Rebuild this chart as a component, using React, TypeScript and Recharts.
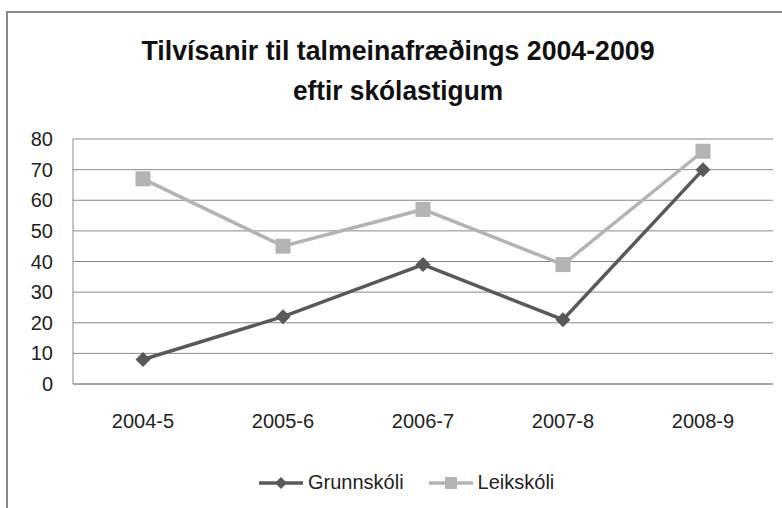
import React from "react";
import { LineChart, Line, XAxis, YAxis, CartesianGrid } from "recharts";

const categories = ["2004-5", "2005-6", "2006-7", "2007-8", "2008-9"];
const grunnskoli = [8, 22, 39, 21, 70];
const leikskoli = [67, 45, 57, 39, 76];
const yTicks = [0, 10, 20, 30, 40, 50, 60, 70, 80];
const seriesNames = ["Grunnskóli", "Leikskóli"];
const titleLines = ["Tilvísanir til talmeinafræðings 2004-2009", "eftir skólastigum"];

const data = categories.map((c, i) => ({
  cat: c,
  g: grunnskoli[i],
  l: leikskoli[i],
}));

const DARK = "#595959";
const LIGHT = "#b3b3b3";
const FONT = "'Liberation Sans', Arial, sans-serif";

const Diamond = (props: any) => {
  const { cx, cy } = props;
  if (cx == null || cy == null) return null;
  const r = 7.5;
  return (
    <polygon
      points={`${cx},${cy - r} ${cx + r},${cy} ${cx},${cy + r} ${cx - r},${cy}`}
      fill={DARK}
    />
  );
};

const Square = (props: any) => {
  const { cx, cy } = props;
  if (cx == null || cy == null) return null;
  const s = 15;
  return <rect x={cx - s / 2} y={cy - s / 2} width={s} height={s} fill={LIGHT} />;
};

const LegendItem = ({ color, name, shape }: { color: string; name: string; shape: "d" | "s" }) => (
  <div style={{ display: "flex", alignItems: "center" }}>
    <svg width={46} height={20} style={{ display: "block" }}>
      <line x1={1} y1={10} x2={45} y2={10} stroke={color} strokeWidth={3.5} />
      {shape === "d" ? (
        <polygon points="23,4 29,10 23,16 17,10" fill={color} />
      ) : (
        <rect x={17} y={4} width={12} height={12} fill={color} />
      )}
    </svg>
    <span style={{ marginLeft: 4, fontSize: 20, color: "#222", fontFamily: FONT }}>{name}</span>
  </div>
);

export default function App() {
  return (
    <div
      style={{
        position: "absolute",
        left: 0,
        top: 0,
        width: 782,
        height: 508,
        background: "#fff",
        overflow: "hidden",
      }}
    >
      <div
        style={{
          position: "absolute",
          left: 6,
          top: 11,
          width: 900,
          height: 700,
          borderTop: "2px solid #8a8a8a",
          borderLeft: "2px solid #8a8a8a",
        }}
      />
      <svg
        width={782}
        height={120}
        style={{ position: "absolute", left: 0, top: 0 }}
      >
        <text
          x={398}
          y={60}
          textAnchor="middle"
          fontFamily={FONT}
          fontWeight="bold"
          fontSize={27}
          fill="#111"
          textLength={513}
          lengthAdjust="spacingAndGlyphs"
        >
          {titleLines[0]}
        </text>
        <text
          x={398}
          y={100}
          textAnchor="middle"
          fontFamily={FONT}
          fontWeight="bold"
          fontSize={27}
          fill="#111"
          textLength={210}
          lengthAdjust="spacingAndGlyphs"
        >
          {titleLines[1]}
        </text>
      </svg>
      <div style={{ position: "absolute", left: 0, top: 0 }}>
        <LineChart
          width={782}
          height={508}
          data={data}
          margin={{ top: 139, right: 9, bottom: 94, left: 0 }}
        >
          <CartesianGrid vertical={false} stroke="#888888" strokeWidth={1} />
          <XAxis
            dataKey="cat"
            height={30}
            padding={{ left: 70, right: 70 }}
            tickLine={false}
            tickSize={0}
            tickMargin={30}
            axisLine={{ stroke: "#888888" }}
            tick={{ fontSize: 20, fill: "#222", fontFamily: FONT }}
          />
          <YAxis
            width={73}
            domain={[0, 80]}
            ticks={yTicks}
            interval={0}
            tickLine={false}
            tickSize={0}
            tickMargin={20}
            axisLine={{ stroke: "#888888" }}
            tick={{ fontSize: 20, fill: "#222", fontFamily: FONT }}
          />
          <Line
            dataKey="g"
            name={seriesNames[0]}
            stroke={DARK}
            strokeWidth={3.5}
            dot={<Diamond />}
            activeDot={false}
            isAnimationActive={false}
          />
          <Line
            dataKey="l"
            name={seriesNames[1]}
            stroke={LIGHT}
            strokeWidth={3.5}
            dot={<Square />}
            activeDot={false}
            isAnimationActive={false}
          />
        </LineChart>
      </div>
      <div
        style={{
          position: "absolute",
          left: 258,
          top: 471,
          display: "flex",
          alignItems: "center",
          gap: 24,
        }}
      >
        <LegendItem color={DARK} name={seriesNames[0]} shape="d" />
        <LegendItem color={LIGHT} name={seriesNames[1]} shape="s" />
      </div>
    </div>
  );
}
